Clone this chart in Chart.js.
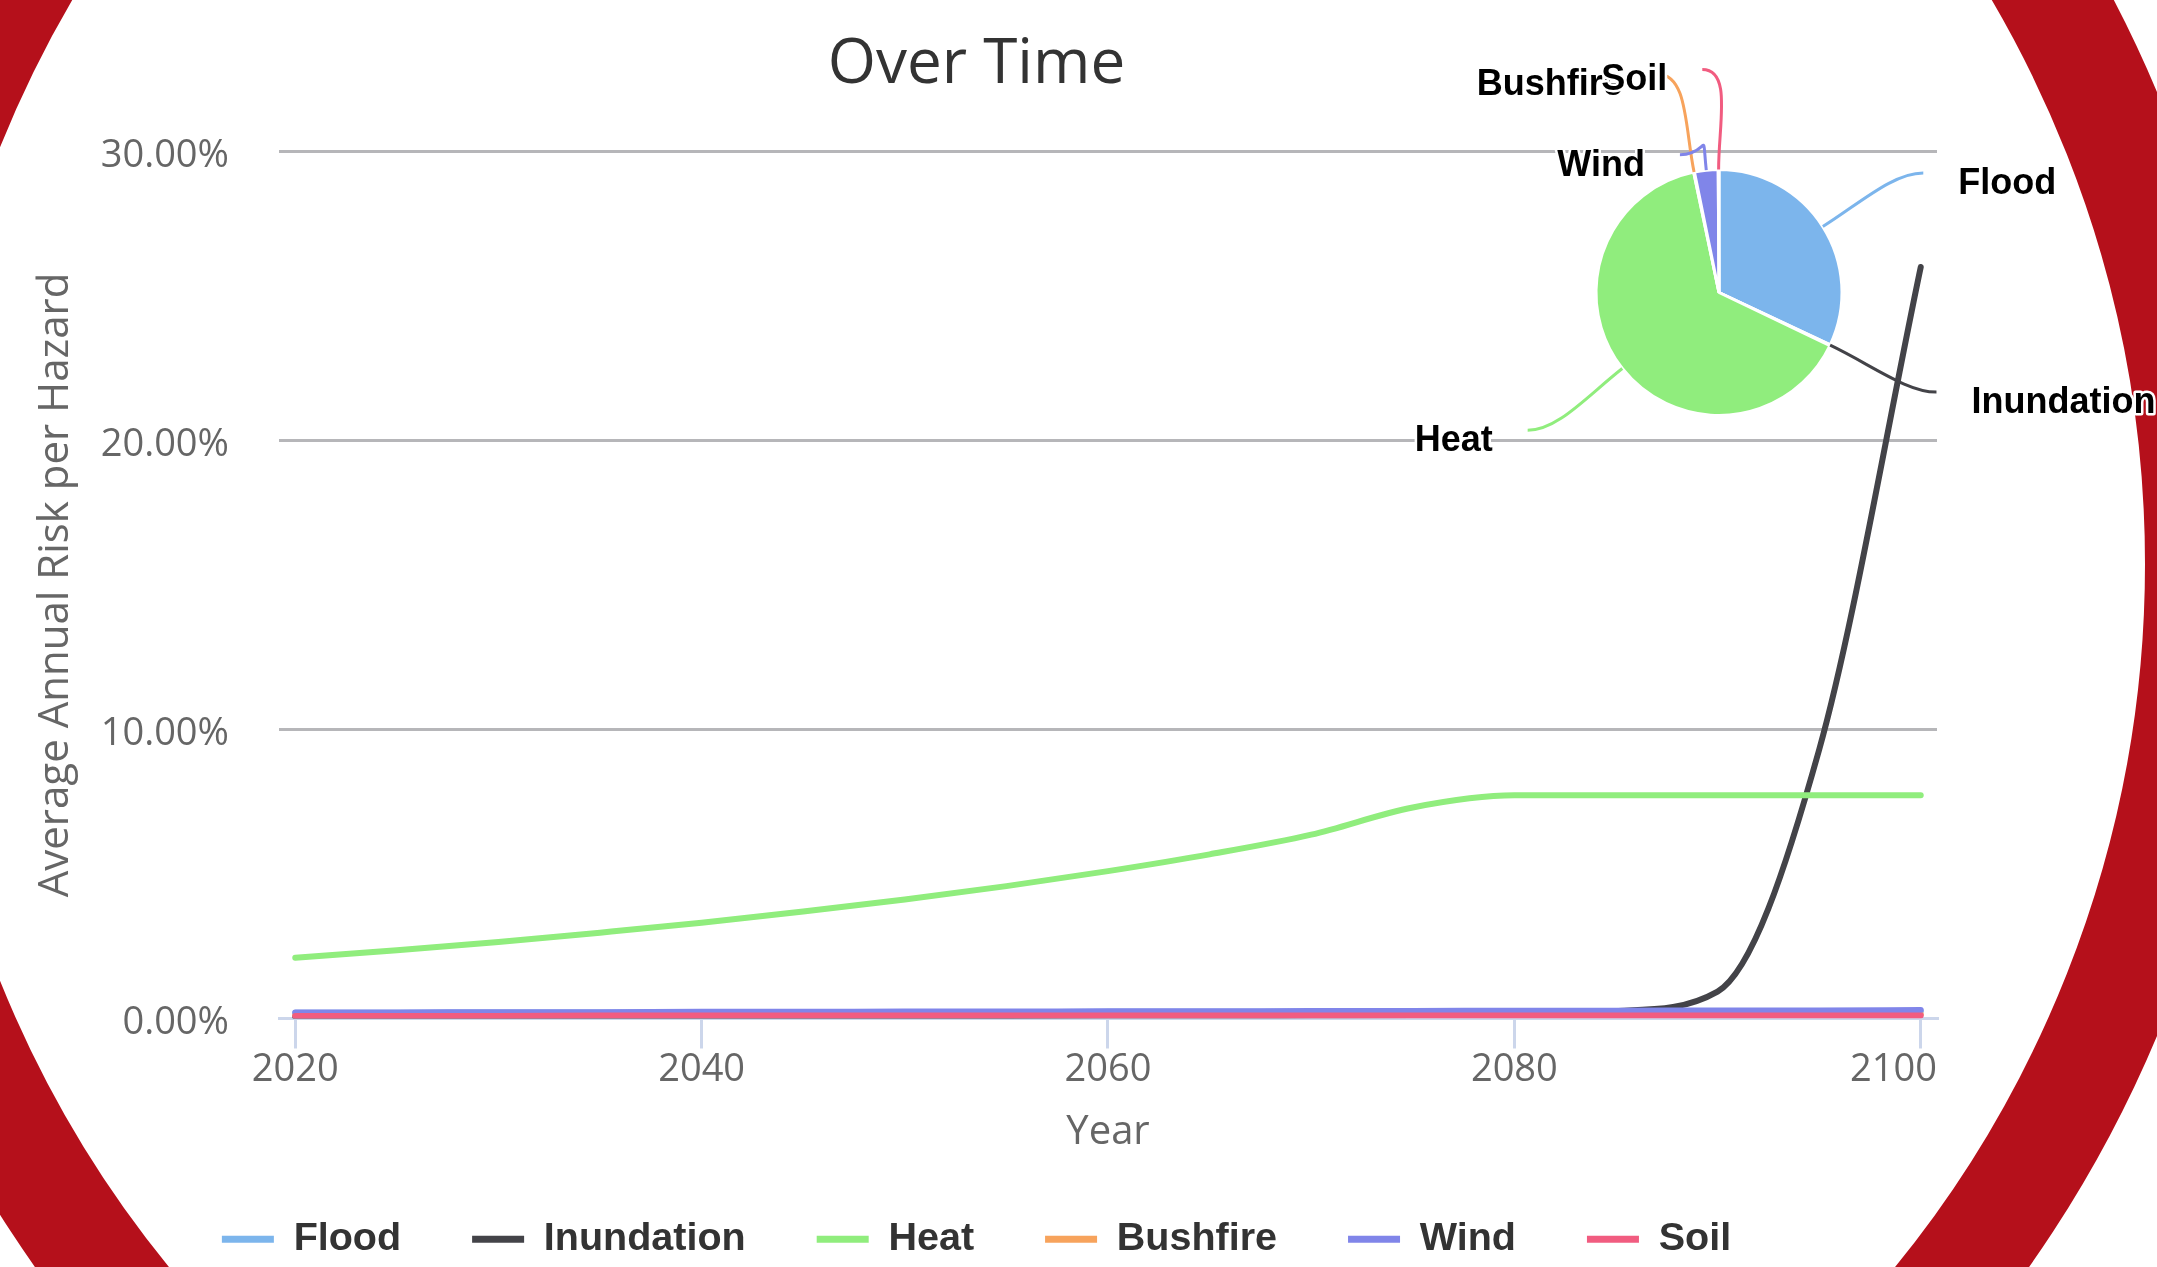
<!DOCTYPE html>
<html lang="en">
<head>
<meta charset="UTF-8">
<title>Over Time</title>
<style type="text/css">
  html, body { margin: 0; padding: 0; background: #fff; overflow: hidden; }
  .page { position: relative; width: 2157px; height: 1267px; overflow: hidden; }
  .ring {
    position: absolute; left: -188px; top: -656px;
    width: 2440px; height: 2440px; box-sizing: border-box;
    border: 107px solid #b5101b; border-radius: 50%;
  }
  #lineChart { position: absolute; left: 0; top: 0; }
  #pieChart { position: absolute; left: 1281px; top: 0; }
</style>
</head>
<body>
<div class="page">
  <div class="ring"></div>
  <canvas id="lineChart" width="1956" height="1267"></canvas>
  <canvas id="pieChart" width="876" height="585"></canvas>
</div>

<script src="https://cdn.jsdelivr.net/npm/chart.js"></script>
<script>
// data
const hazards = ['Flood', 'Inundation', 'Heat', 'Bushfire', 'Wind', 'Soil'];
const years = [2020, 2025, 2030, 2035, 2040, 2045, 2050, 2055, 2060, 2065, 2070, 2075, 2080, 2085, 2090, 2095, 2100];
const flood      = [0.20, 0.20, 0.21, 0.21, 0.21, 0.22, 0.22, 0.22, 0.23, 0.23, 0.23, 0.24, 0.24, 0.24, 0.25, 0.25, 0.25];
const inundation = [0.06, 0.06, 0.07, 0.07, 0.08, 0.08, 0.09, 0.09, 0.10, 0.10, 0.11, 0.12, 0.14, 0.26, 0.93, 9.30, 26.00];
const heat       = [2.10, 2.36, 2.65, 2.97, 3.31, 3.70, 4.12, 4.58, 5.10, 5.68, 6.36, 7.30, 7.72, 7.72, 7.72, 7.72, 7.72];
const bushfire   = [0.12, 0.12, 0.12, 0.12, 0.13, 0.13, 0.13, 0.13, 0.13, 0.14, 0.14, 0.14, 0.14, 0.14, 0.15, 0.15, 0.15];
const wind       = [0.21, 0.21, 0.22, 0.22, 0.23, 0.23, 0.24, 0.24, 0.25, 0.25, 0.26, 0.26, 0.27, 0.27, 0.28, 0.28, 0.29];
const soil       = [0.09, 0.09, 0.09, 0.10, 0.10, 0.10, 0.10, 0.10, 0.10, 0.10, 0.10, 0.10, 0.10, 0.10, 0.10, 0.10, 0.10];
const pieShare   = [32.0, 0.1, 64.6, 0.1, 3.1, 0.1];
const xTicks = [2020, 2040, 2060, 2080, 2100];
const yTicks = [0, 10, 20, 30];

const colors = ['#7cb5ec', '#434348', '#90ed7d', '#f7a35c', '#8085e9', '#f15c80'];
const series = [flood, inundation, heat, bushfire, wind, soil];

Chart.defaults.font.family = '"Open Sans", sans-serif';
Chart.defaults.animation = false;

// x labels drawn by hand so the last one is pulled inside the plot, like the original
const xLabels = {
  id: 'xLabels',
  afterDraw(chart) {
    const {ctx, chartArea, scales} = chart;
    const x = scales.x;
    ctx.save();
    ctx.font = '38px "Open Sans"';
    ctx.fillStyle = '#666666';
    ctx.textAlign = 'center';
    ctx.textBaseline = 'middle';
    xTicks.forEach(v => {
      const txt = String(v);
      const w = ctx.measureText(txt).width;
      let px = x.getPixelForValue(v);
      if (px + w / 2 > chartArea.right) px = chartArea.right - w / 2;
      ctx.fillText(txt, px, x.top + 52);
    });
    ctx.restore();
  }
};

const lineChart = new Chart(document.getElementById('lineChart'), {
  type: 'line',
  data: {
    datasets: hazards.map((name, i) => ({
      label: name,
      data: years.map((yr, j) => ({x: yr, y: series[i][j]})),
      borderColor: colors[i],
      backgroundColor: colors[i],
      borderWidth: 6,
      pointRadius: 0,
      cubicInterpolationMode: 'monotone',
      borderCapStyle: 'round',
      borderJoinStyle: 'round',
      order: hazards.length - i   // later series on top
    }))
  },
  options: {
    responsive: false,
    devicePixelRatio: 1,
    layout: { padding: { left: 16, right: 19, top: 0, bottom: -2 } },
    scales: {
      x: {
        type: 'linear',
        min: 2019.2,
        max: 2100.8,
        afterBuildTicks: s => { s.ticks = xTicks.map(v => ({value: v})); },
        afterFit: s => { s.height = 130; },
        ticks: { callback: () => '' },
        grid: { drawOnChartArea: false, drawTicks: true, tickLength: 30, color: '#ccd6eb', lineWidth: 3 },
        border: { display: true, color: '#ccd6eb', width: 3 },
        title: {
          display: true, text: 'Year', color: '#666666',
          font: { size: 40, lineHeight: 0.8 }, padding: 0
        }
      },
      y: {
        min: 0,
        max: 30,
        afterBuildTicks: s => { s.ticks = yTicks.map(v => ({value: v})); },
        afterFit: s => { s.width = 263; },
        ticks: {
          callback: v => v.toFixed(2) + '%',
          color: '#666666',
          font: { size: 38 },
          padding: 50,
          labelOffset: 5
        },
        grid: {
          drawTicks: false,
          lineWidth: 3,
          color: c => (c.tick && c.tick.value === 0) ? 'rgba(0,0,0,0)' : '#b6b6b9'
        },
        border: { display: false },
        title: {
          display: true, text: 'Average Annual Risk per Hazard', color: '#666666',
          font: { size: 42 }, padding: { top: 15, bottom: 0 }
        }
      }
    },
    plugins: {
      title: {
        display: true, text: 'Over Time', color: '#333333',
        font: { size: 62, weight: 'normal' },
        padding: { top: 28, bottom: 49 }
      },
      legend: {
        position: 'bottom',
        labels: {
          boxWidth: 52,
          boxHeight: 7,
          padding: 71,
          color: '#333333',
          font: { family: '"Liberation Sans", Arial, sans-serif', size: 39.5, weight: 'bold' },
          generateLabels: chart => chart.data.datasets.map((ds, i) => ({
            text: ds.label,
            fillStyle: ds.borderColor,
            strokeStyle: ds.borderColor,
            lineWidth: 0,
            hidden: false,
            datasetIndex: i,
            fontColor: '#333333'
          }))
        }
      },
      tooltip: { enabled: false }
    }
  },
  plugins: [xLabels]
});

// pie labels with curved connectors
const labelDistance = 100;
const labelShift = { Wind: 84, Inundation: 4 };

const pieLabels = {
  id: 'pieLabels',
  afterDraw(chart) {
    const ctx = chart.ctx;
    const arcs = chart.getDatasetMeta(0).data;
    ctx.save();
    ctx.font = 'bold 36px "Liberation Sans", Arial, sans-serif';
    ctx.textBaseline = 'middle';
    ctx.lineJoin = 'round';
    arcs.forEach((arc, i) => {
      const p = arc.getProps(['x', 'y', 'startAngle', 'endAngle', 'outerRadius'], true);
      const mid = (p.startAngle + p.endAngle) / 2;
      const dx = Math.cos(mid), dy = Math.sin(mid);
      const side = dx >= 0 ? 1 : -1;
      const start = { x: p.x + p.outerRadius * dx, y: p.y + p.outerRadius * dy };
      const reach = p.outerRadius + labelDistance;
      const end = {
        x: p.x + reach * dx + side * 16,
        y: p.y + reach * dy + (labelShift[hazards[i]] || 0)
      };
      ctx.strokeStyle = colors[i];
      ctx.lineWidth = 3;
      ctx.beginPath();
      ctx.moveTo(start.x, start.y);
      ctx.bezierCurveTo(start.x + dx * 45, start.y + dy * 45, end.x - side * 30, end.y, end.x, end.y);
      ctx.stroke();

      const tx = end.x + side * 35, ty = end.y + 11;
      ctx.textAlign = side > 0 ? 'left' : 'right';
      ctx.lineWidth = 5;
      ctx.strokeStyle = '#ffffff';
      ctx.strokeText(hazards[i], tx, ty);
      ctx.fillStyle = '#000000';
      ctx.fillText(hazards[i], tx, ty);
    });
    ctx.restore();
  }
};

const pieChart = new Chart(document.getElementById('pieChart'), {
  type: 'pie',
  data: {
    labels: hazards,
    datasets: [{
      data: pieShare,
      backgroundColor: colors,
      borderColor: '#ffffff',
      borderWidth: 3
    }]
  },
  options: {
    responsive: false,
    devicePixelRatio: 1,
    radius: 123,
    layout: { padding: 0 },
    plugins: { legend: { display: false }, tooltip: { enabled: false } }
  },
  plugins: [pieLabels]
});
</script>
</body>
</html>
